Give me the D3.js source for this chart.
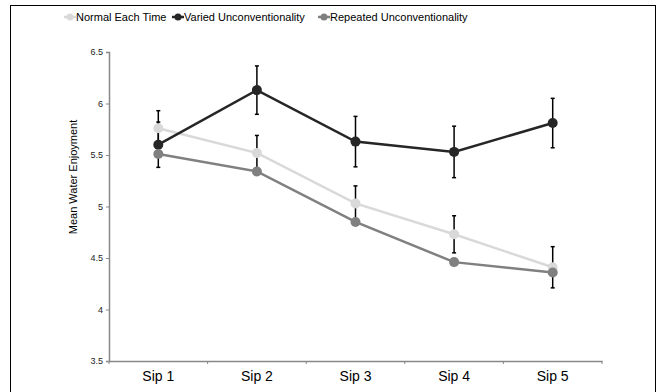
<!DOCTYPE html>
<html>
<head>
<meta charset="utf-8">
<script src="https://cdn.jsdelivr.net/npm/d3@7"></script>
<style>
  body { margin: 0; background: white; }
  text { font-family: "Liberation Sans", Arial, sans-serif; }
</style>
</head>
<body>
<div id="chart-area"></div>
<script>
var categories = ["Sip 1", "Sip 2", "Sip 3", "Sip 4", "Sip 5"];
var seriesNames = ["Normal Each Time", "Varied Unconventionality", "Repeated Unconventionality"];
var normalMeans = [5.76, 5.52, 5.03, 4.73, 4.41];
var normalErr = [0.17, 0.17, 0.17, 0.18, 0.20];
var variedMeans = [5.60, 6.13, 5.63, 5.53, 5.81];
var variedErr = [0.22, 0.235, 0.245, 0.25, 0.24];
var repeatedMeans = [5.51, 5.34, 4.85, 4.46, 4.36];
var yTicks = [3.5, 4, 4.5, 5, 5.5, 6, 6.5];

var width = 657, height = 392;
var margin = {top: 52, right: 55, bottom: 31, left: 109};
var w = width - margin.left - margin.right;
var h = height - margin.top - margin.bottom;
var colors = ["#d9d9d9", "#262626", "#808080"];

var series = [
  {name: seriesNames[0], means: normalMeans, err: normalErr, color: colors[0]},
  {name: seriesNames[1], means: variedMeans, err: variedErr, color: colors[1]},
  {name: seriesNames[2], means: repeatedMeans, err: null, color: colors[2]}
];

var svg = d3.select("#chart-area").append("svg")
  .attr("width", width)
  .attr("height", height);

// outer frame
svg.append("rect")
  .attr("x", 10.5).attr("y", 5.5)
  .attr("width", 645).attr("height", 392)
  .attr("fill", "none")
  .attr("stroke", "black")
  .attr("stroke-width", 1);

var g = svg.append("g")
  .attr("transform", "translate(" + margin.left + "," + margin.top + ")");

var x = d3.scaleBand().domain(categories).range([0, w]);
var y = d3.scaleLinear().domain([3.5, 6.5]).range([h, 0]);

// y axis
var leftAxis = d3.axisLeft(y).tickValues(yTicks).tickSize(3).tickPadding(3)
  .tickFormat(function(d) { return d; });
var ya = g.append("g").attr("class", "left axis").call(leftAxis);
ya.select(".domain").attr("stroke", "#888").attr("stroke-width", 1.5);
ya.selectAll(".tick line").attr("stroke", "#888");
ya.selectAll("text").attr("font-size", "9px").attr("fill", "#222");

// x axis with ticks at band edges
var bottomAxis = d3.axisBottom(x).tickSize(0).tickPadding(10);
var xa = g.append("g").attr("class", "bottom axis")
  .attr("transform", "translate(0," + h + ")").call(bottomAxis);
xa.select(".domain").attr("stroke", "#888").attr("stroke-width", 1.5);
xa.selectAll("text").attr("font-size", "14px").attr("fill", "black");
xa.selectAll(".edge").data(categories.concat(["end"])).enter()
  .append("line")
  .attr("class", "edge")
  .attr("x1", function(d, i) { return i * x.step(); })
  .attr("x2", function(d, i) { return i * x.step(); })
  .attr("y1", 0).attr("y2", 3)
  .attr("stroke", "#888");

// y axis label
g.append("text")
  .attr("transform", "rotate(-90)")
  .attr("x", -125)
  .attr("y", -32)
  .attr("text-anchor", "middle")
  .attr("font-size", "11px")
  .attr("fill", "black")
  .text("Mean Water Enjoyment");

var cx = function(d, i) { return x(categories[i]) + x.bandwidth() / 2; };

// error bars (only the first two series have them)
series.forEach(function(s) {
  if (!s.err) return;
  var eb = g.append("g").attr("class", "errbars");
  s.means.forEach(function(m, i) {
    var px = cx(m, i);
    eb.append("line")
      .attr("x1", px).attr("x2", px)
      .attr("y1", y(m + s.err[i])).attr("y2", y(m - s.err[i]))
      .attr("stroke", "black").attr("stroke-width", 1.5);
    [m + s.err[i], m - s.err[i]].forEach(function(v) {
      eb.append("line")
        .attr("x1", px - 2).attr("x2", px + 2)
        .attr("y1", y(v)).attr("y2", y(v))
        .attr("stroke", "black").attr("stroke-width", 1.5);
    });
  });
});

// lines and markers
var line = d3.line().x(cx).y(function(d) { return y(d); });
series.forEach(function(s) {
  g.append("path")
    .datum(s.means)
    .attr("d", line)
    .attr("fill", "none")
    .attr("stroke", s.color)
    .attr("stroke-width", 2.5);
  g.selectAll(null).data(s.means).enter()
    .append("circle")
    .attr("cx", cx)
    .attr("cy", function(d) { return y(d); })
    .attr("r", 5)
    .attr("fill", s.color);
});

// legend
var legendX = [76, 184, 330];
var legend = svg.append("g").attr("class", "legend");
series.forEach(function(s, i) {
  var lg = legend.append("g").attr("transform", "translate(" + legendX[i] + ",17)");
  lg.append("line").attr("x1", -12).attr("x2", 0).attr("y1", 0).attr("y2", 0)
    .attr("stroke", s.color).attr("stroke-width", 2.5);
  lg.append("circle").attr("cx", -6).attr("cy", 0).attr("r", 3.5).attr("fill", s.color);
  lg.append("text").attr("x", 0).attr("y", 4)
    .attr("font-size", "11px").attr("fill", "black")
    .text(s.name);
});
</script>
</body>
</html>
